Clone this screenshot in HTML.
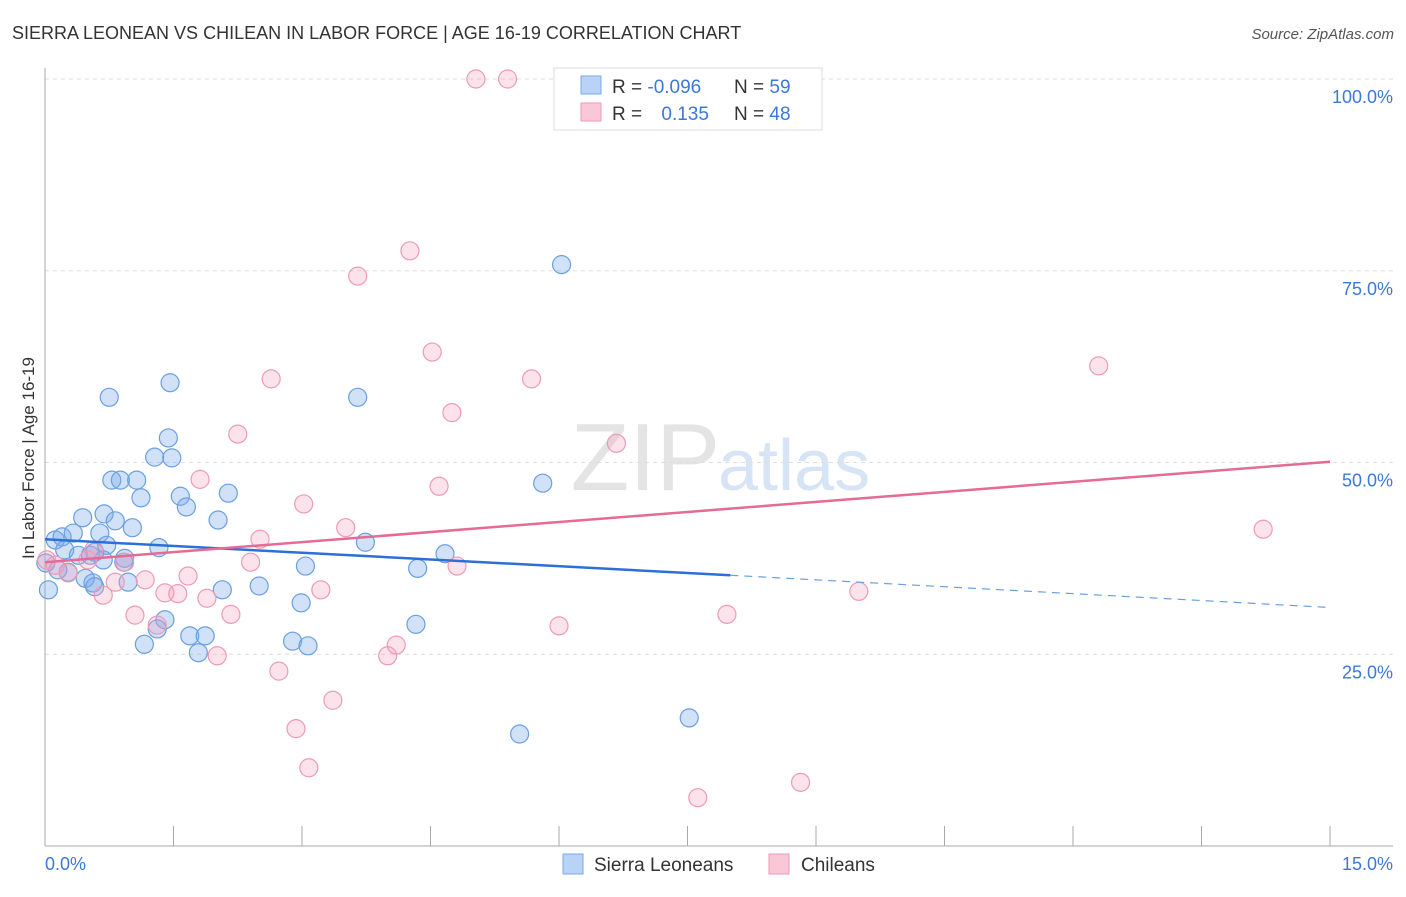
<!DOCTYPE html>
<html><head><meta charset="utf-8"><style>
body{margin:0;background:#fff;font-family:"Liberation Sans",sans-serif;}
svg text{font-family:"Liberation Sans",sans-serif;}
</style></head><body>
<svg id="chart" width="1406" height="892" xmlns="http://www.w3.org/2000/svg">
<text x="12" y="39" font-size="18" fill="#333">SIERRA LEONEAN VS CHILEAN IN LABOR FORCE | AGE 16-19 CORRELATION CHART</text>
<text x="1394" y="39" font-size="15" fill="#555" font-style="italic" text-anchor="end">Source: ZipAtlas.com</text>
<text x="720" y="490" font-size="96" fill="#e4e4e4" font-family="Liberation Serif" text-anchor="end">ZIP</text>
<text x="718" y="490" font-size="72" fill="#d6e4f5">atlas</text>
<g id="grid"></g>
<g id="axes"></g>
<g id="marks"></g>
<g id="lines"></g>
<text x="34" y="458" font-size="17" fill="#333" transform="rotate(-90 34 458)" text-anchor="middle">In Labor Force | Age 16-19</text>
<text x="45" y="870" font-size="18" fill="#3b78d8">0.0%</text>
<text x="1393" y="870" font-size="18" fill="#3b78d8" text-anchor="end">15.0%</text>
<g>
<rect x="554" y="68" width="268" height="62" fill="#fff" stroke="#ddd"/>
<rect x="581" y="76" width="20" height="18" fill="#b8d3f5" stroke="#7aa9e6"/>
<rect x="581" y="103" width="20" height="18" fill="#f9c7d6" stroke="#ef9ab5"/>
<text x="612" y="93" font-size="19" fill="#333">R = <tspan fill="#3b78d8">-0.096</tspan></text>
<text x="734" y="93" font-size="19" fill="#333">N = <tspan fill="#3b78d8">59</tspan></text>
<text x="612" y="120" font-size="19" fill="#333">R = <tspan fill="#3b78d8" dx="14">0.135</tspan></text>
<text x="734" y="120" font-size="19" fill="#333">N = <tspan fill="#3b78d8">48</tspan></text>
</g>
<g>
<rect x="563" y="854" width="20" height="20" fill="#b8d3f5" stroke="#7aa9e6"/>
<text x="594" y="871" font-size="19" fill="#333">Sierra Leoneans</text></g>
<g>
<rect x="769" y="854" width="20" height="20" fill="#f9c7d6" stroke="#ef9ab5"/>
<text x="801" y="871" font-size="19" fill="#333">Chileans</text></g>
</svg>
<script>
const yTicks=[100,75,50,25];
const yTickLabels=["100.0%","75.0%","50.0%","25.0%"];
const xTicks=[0,1.5,3,4.5,6,7.5,9,10.5,12,13.5,15];
const blueX=[0.04,0.12,0.20,0.23,0.27,0.33,0.39,0.44,0.47,0.53,0.56,0.58,0.64,0.68,0.69,0.78,0.82,0.88,0.93,0.97,1.02,1.07,1.12,1.16,1.28,1.33,1.40,1.31,1.44,1.46,1.48,1.58,1.65,1.69,1.79,1.87,0.75,2.02,2.07,2.14,2.50,2.89,2.99,3.04,3.07,3.65,3.74,4.33,4.35,4.67,5.54,5.81,6.03,7.52,0.01,0.15,0.72,0.92,0.58];
const blueY=[33.4,39.9,40.3,38.6,35.7,40.8,37.9,42.8,34.9,37.9,34.3,38.3,40.8,37.3,43.3,47.7,42.4,47.7,37.5,34.4,41.5,47.7,45.4,26.3,50.7,38.9,29.5,28.3,53.2,60.4,50.6,45.6,44.2,27.4,25.2,27.4,58.5,42.5,33.4,46.0,33.9,26.7,31.7,36.5,26.1,58.5,39.6,28.9,36.2,38.1,14.6,47.3,75.8,16.7,36.9,36.0,39.2,37.0,33.8];
const pinkX=[5.03,5.40,4.26,3.65,4.52,2.64,5.68,4.75,6.67,2.25,1.81,4.60,3.02,3.51,2.51,12.30,14.22,9.50,0.02,0.12,0.27,0.50,0.57,0.68,0.82,0.93,1.17,1.05,1.31,1.40,1.55,1.67,1.89,2.17,2.01,2.40,2.73,2.93,3.08,3.22,3.36,4.00,4.10,4.81,6.00,7.96,7.62,8.82];
const pinkY=[100,100,77.6,74.3,64.4,60.9,60.9,56.5,52.5,53.7,47.8,46.9,44.6,41.5,40.0,62.6,41.3,33.2,37.3,36.6,35.6,37.3,38.6,32.7,34.4,37.0,34.7,30.1,28.8,33.0,32.9,35.2,32.3,30.2,24.8,37.0,22.8,15.3,10.2,33.4,19.0,24.8,26.2,36.5,28.7,30.2,6.3,8.3];
const blueTrend=[40.0,35.3,31.1]; const blueTrendX=[0,8.0,15];
const pinkTrend=[37.0,50.1]; const pinkTrendX=[0,15];
const NS="http://www.w3.org/2000/svg";
const X=v=>45+v/15*1285;
const Y=v=>846-v/100*767;
function mk(tag,attrs,parent){const e=document.createElementNS(NS,tag);for(const k in attrs)e.setAttribute(k,attrs[k]);document.getElementById(parent).appendChild(e);return e;}
yTicks.forEach((t,i)=>{
  const g=mk('line',{x1:45,x2:1393,y1:Y(t),y2:Y(t),stroke:'#ddd','stroke-dasharray':'4,4'},'grid');
  
  
  const l=mk('text',{x:1393,y:Y(t)+24,'font-size':18,fill:'#3b78d8','text-anchor':'end'},'grid');
  l.textContent=yTickLabels[i];
  
  
});
const ax=mk('line',{x1:45,x2:1393,y1:846,y2:846,stroke:'#aaa'},'axes');


const ay=mk('line',{x1:45,x2:45,y1:68,y2:846,stroke:'#aaa'},'axes');


xTicks.forEach(t=>{
  const e=mk('line',{x1:X(t),x2:X(t),y1:826,y2:846,stroke:'#aaa'},'axes');
  
  
});
blueX.forEach((x,i)=>{
  const c=mk('circle',{cx:X(x),cy:Y(blueY[i]),r:9,fill:'rgba(120,170,235,0.35)',stroke:'#6a9fe0','stroke-width':1.2},'marks');
  
  
});
pinkX.forEach((x,i)=>{
  const c=mk('circle',{cx:X(x),cy:Y(pinkY[i]),r:9,fill:'rgba(245,160,190,0.3)',stroke:'#ee9ab5','stroke-width':1.2},'marks');
  
  
});
const b1=mk('line',{x1:X(blueTrendX[0]),y1:Y(blueTrend[0]),x2:X(blueTrendX[1]),y2:Y(blueTrend[1]),stroke:'#2c6fd6','stroke-width':2.5},'lines');


const b2=mk('line',{x1:X(blueTrendX[1]),y1:Y(blueTrend[1]),x2:X(blueTrendX[2]),y2:Y(blueTrend[2]),stroke:'#6a9fe0','stroke-width':1.2,'stroke-dasharray':'8,6'},'lines');


const p1=mk('line',{x1:X(pinkTrendX[0]),y1:Y(pinkTrend[0]),x2:X(pinkTrendX[1]),y2:Y(pinkTrend[1]),stroke:'#e56a95','stroke-width':2.5},'lines');


</script>
</body></html>
